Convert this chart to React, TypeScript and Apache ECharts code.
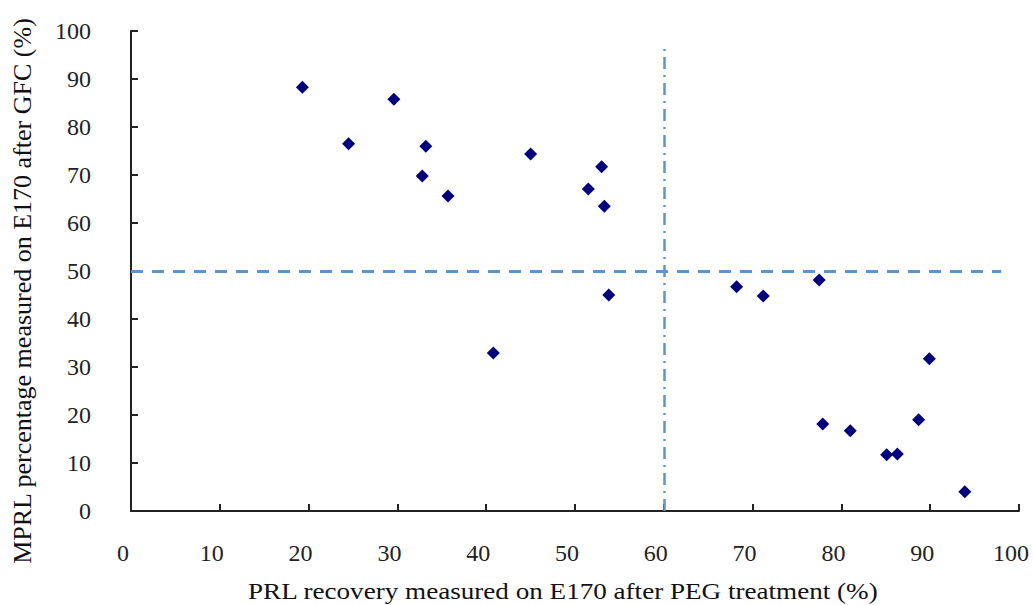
import React, { useEffect, useRef } from "react";
import * as echarts from "echarts";

const prlRecovery = [19.3, 24.5, 29.6, 33.2, 32.8, 35.7, 45.0, 51.5, 53.0, 53.3, 53.8, 40.8, 68.2, 71.2, 77.5, 77.9, 81.0, 85.1, 86.3, 88.7, 89.9, 93.9];
const mprlPercent = [88.3, 76.5, 85.8, 76.0, 69.8, 65.6, 74.4, 67.1, 71.7, 63.5, 45.0, 32.9, 46.7, 44.8, 48.1, 18.1, 16.7, 11.7, 11.9, 19.0, 31.7, 4.0];
const hThreshold = { y: 50, xFrom: 0, xTo: 98 };
const vThreshold = { x: 60, yFrom: 0, yTo: 96.5 };
const xTitle = "PRL recovery measured on E170 after PEG treatment (%)";
const yTitle = "MPRL percentage measured on E170 after GFC (%)";

export default function App() {
  const ref = useRef<HTMLDivElement>(null);
  useEffect(() => {
    if (!ref.current) return;
    const chart = echarts.init(ref.current, null, { renderer: "svg" });
    const font = "'Liberation Serif', 'Times New Roman', serif";
    const axisCommon = {
      type: "value",
      min: 0,
      max: 100,
      interval: 10,
      splitLine: { show: false },
      axisLine: { show: true, lineStyle: { color: "#222", width: 2 } },
      axisTick: { show: true, inside: true, length: 7, lineStyle: { color: "#222", width: 2 } },
    };
    chart.setOption({
      animation: false,
      backgroundColor: "#fff",
      grid: { left: 131, right: 14, top: 31, bottom: 94 },
      xAxis: {
        ...axisCommon,
        axisLabel: { margin: 30, fontFamily: font, fontSize: 24, color: "#222", padding: [0, 16, 0, 0] },
      },
      yAxis: {
        ...axisCommon,
        axisLabel: { margin: 40, fontFamily: font, fontSize: 24, color: "#222", padding: [4, 0, 0, 0] },
      },
      graphic: [
        {
          type: "text",
          x: 248,
          y: 579,
          scaleX: 1.13,
          style: { text: xTitle, font: `24px ${font}`, fill: "#111" },
        },
        {
          type: "text",
          x: 22,
          y: 291,
          rotation: Math.PI / 2,
          style: { text: yTitle, font: `26px ${font}`, fill: "#111", align: "center", verticalAlign: "middle" },
        },
      ],
      series: [
        {
          type: "scatter",
          data: prlRecovery.map((x, i) => [x, mprlPercent[i]]),
          symbol: "diamond",
          symbolSize: 13,
          itemStyle: { color: "#00007c", opacity: 1 },
          markLine: {
            silent: true,
            symbol: "none",
            label: { show: false },
            data: [
              [
                { coord: [hThreshold.xFrom, hThreshold.y] },
                { coord: [hThreshold.xTo, hThreshold.y] },
              ],
              [
                { coord: [vThreshold.x, vThreshold.yFrom], lineStyle: { type: [12, 6, 2, 6], width: 2.5 } },
                { coord: [vThreshold.x, vThreshold.yTo] },
              ],
            ],
            lineStyle: { color: "#5b95cf", width: 3, type: [12, 9] },
          },
        },
      ],
    });
    return () => chart.dispose();
  }, []);
  return <div ref={ref} style={{ width: 1033, height: 605, position: "absolute", left: 0, top: 0 }} />;
}
